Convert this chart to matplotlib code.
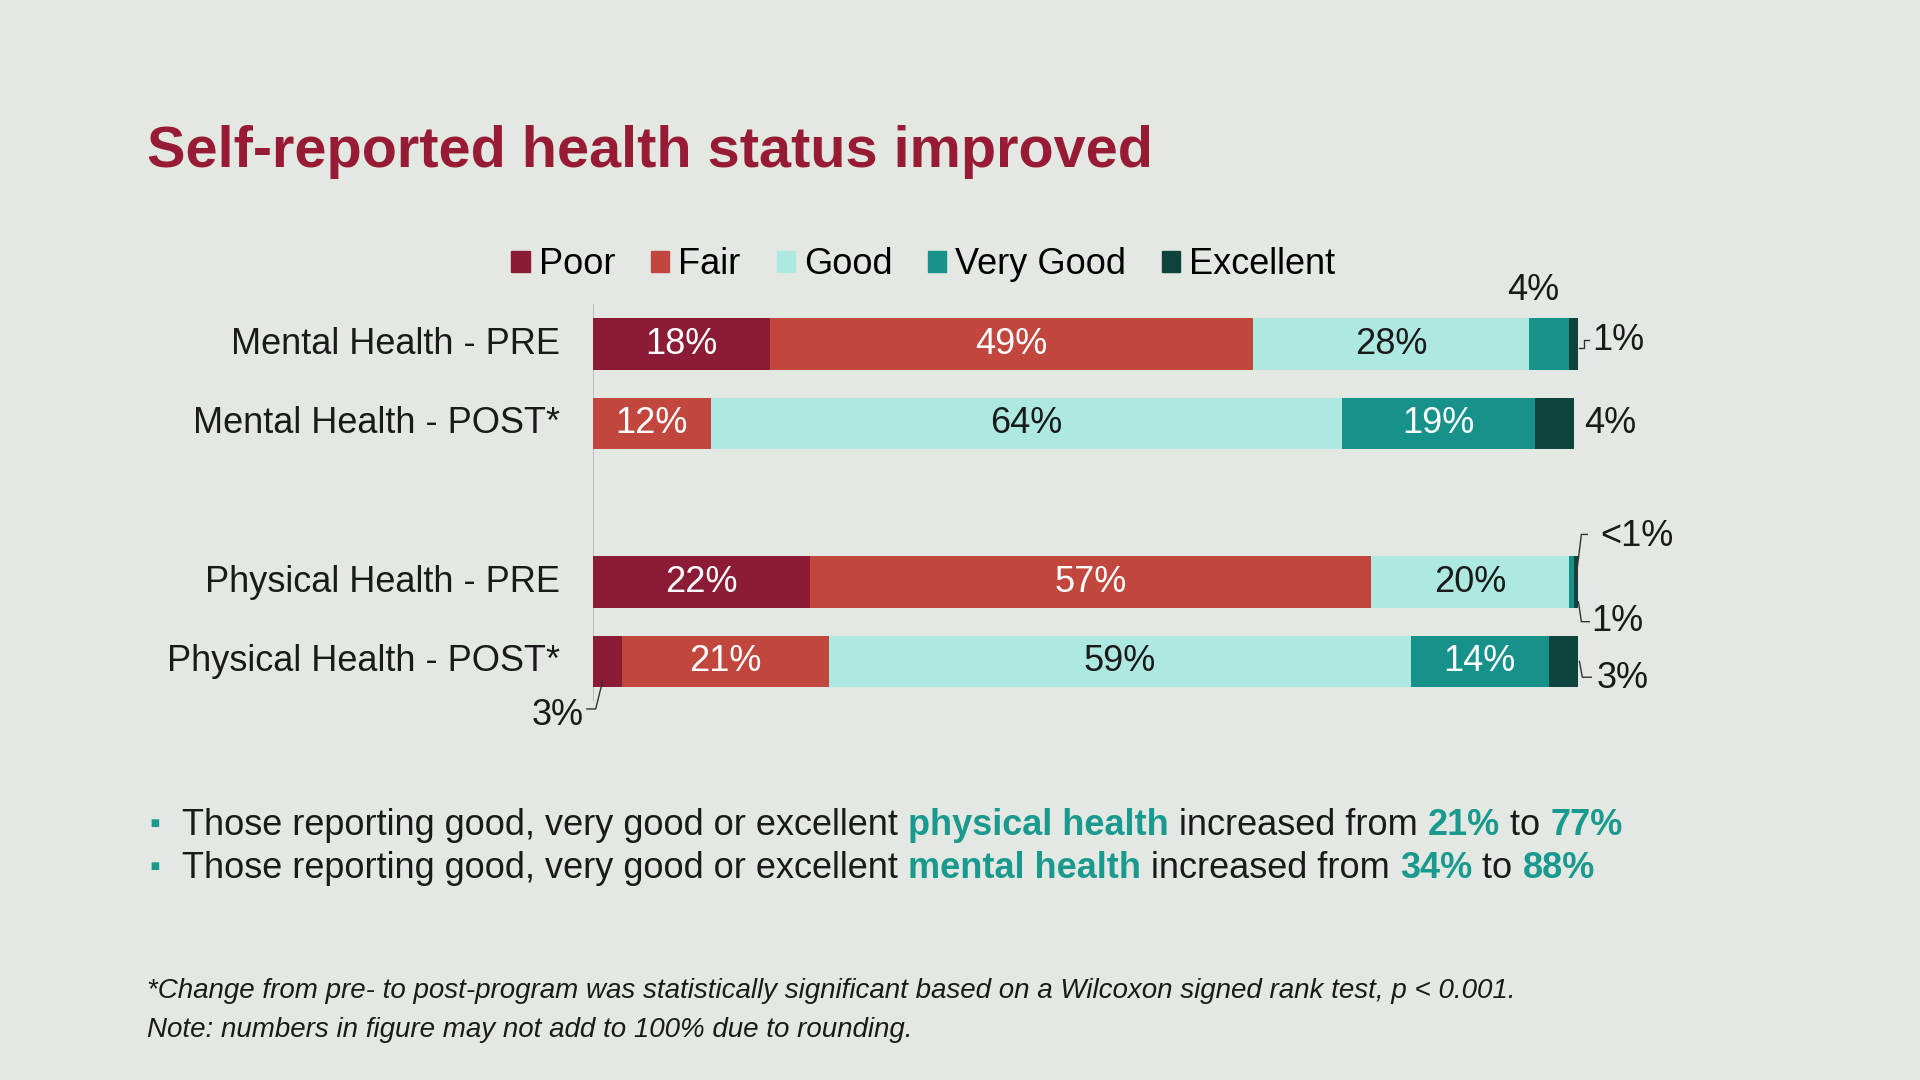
import matplotlib.pyplot as plt
from matplotlib.patches import Patch

plt.rcParams['font.family'] = ['Liberation Sans', 'DejaVu Sans']

rows = ["Mental Health - PRE", "Mental Health - POST*", "Physical Health - PRE", "Physical Health - POST*"]
row_pos = [0, 1, 3, 4]
categories = ["Poor", "Fair", "Good", "Very Good", "Excellent"]
values = {
    "Poor":      [18, 0, 22, 3],
    "Fair":      [49, 12, 57, 21],
    "Good":      [28, 64, 20, 59],
    "Very Good": [4, 19.6, 0.6, 14],
    "Excellent": [1, 4, 1, 3],
}
colors = ["#8c1b35", "#c1473e", "#ade9e0", "#17928a", "#0f433e"]
text_colors = ["white", "white", "#1a1a1a", "white", "white"]
bg = "#e4e8e2"
teal = "#1a9a8e"
FS = 26

fig = plt.figure(figsize=(19.2, 10.8), dpi=100, facecolor=bg)
ax = fig.add_axes([0.3087, 0.3509, 0.5134, 0.3673])
ax.set_facecolor("none")
ax.set_xlim(0, 100)
ax.set_ylim(4.5, -0.5)
ax.axis("off")
ax.axvline(0, color="#b5b5b5", lw=1.2, zorder=0)

left = [0.0] * len(rows)
for cat, col, tc in zip(categories, colors, text_colors):
    vals = values[cat]
    ax.barh(row_pos, vals, left=left, height=0.65, color=col, zorder=2)
    for y, v, l in zip(row_pos, vals, left):
        if v >= 10:
            ax.text(l + v / 2, y, f"{int(v)}%", ha="center", va="center", color=tc, fontsize=FS)
    left = [a + b for a, b in zip(left, vals)]

for y, r in zip(row_pos, rows):
    ax.text(-3.3, y, r, ha="right", va="center", fontsize=FS, color="#1a1a1a", clip_on=False)

# callouts for the small segments
kw = dict(fontsize=FS, color="#1a1a1a", clip_on=False)
lk = dict(color="#333333", lw=1, clip_on=False)
ax.text(95.4, -0.68, "4%", ha="center", va="center", **kw)
ax.plot([100.1, 100.6, 100.6, 101.1], [0.05, 0.05, -0.05, -0.05], **lk)
ax.text(101.4, -0.04, "1%", ha="left", va="center", **kw)
ax.plot([99.7, 100.3, 100.9], [3.0, 2.4, 2.4], **lk)
ax.text(100.6, 1, "4%", ha="left", va="center", **kw)
ax.text(102.2, 2.42, "<1%", ha="left", va="center", **kw)
ax.plot([100.0, 100.3, 101.1], [3.25, 3.5, 3.5], **lk)
ax.text(101.3, 3.5, "1%", ha="left", va="center", **kw)
ax.plot([1.0, 0.3, -0.6], [4.25, 4.6, 4.6], **lk)
ax.text(-0.9, 4.68, "3%", ha="right", va="center", **kw)
ax.plot([100.1, 100.4, 101.3], [4.0, 4.2, 4.2], **lk)
ax.text(101.8, 4.22, "3%", ha="left", va="center", **kw)

handles = [Patch(color=c, label=n) for c, n in zip(colors, categories)]
fig.legend(handles=handles, loc="center", bbox_to_anchor=(0.481, 0.755), ncol=5, frameon=False,
           fontsize=FS, handlelength=0.5, handleheight=0.5, handletextpad=0.25, columnspacing=1.0)

fig.text(0.0765, 0.859, "Self-reported health status improved", fontsize=41.5, fontweight="bold",
         color="#981b36", va="center")

fig.canvas.draw()
renderer = fig.canvas.get_renderer()


def rich_line(x, y, parts):
    for s, c, w in parts:
        t = fig.text(x, y, s, fontsize=FS, color=c, fontweight=w, va="center")
        bb = t.get_window_extent(renderer)
        x += bb.width / fig.bbox.width


bullets = [
    [("Those reporting good, very good or excellent ", "#1a1a1a", "normal"), ("physical health", teal, "bold"),
     (" increased from ", "#1a1a1a", "normal"), ("21%", teal, "bold"), (" to ", "#1a1a1a", "normal"), ("77%", teal, "bold")],
    [("Those reporting good, very good or excellent ", "#1a1a1a", "normal"), ("mental health", teal, "bold"),
     (" increased from ", "#1a1a1a", "normal"), ("34%", teal, "bold"), (" to ", "#1a1a1a", "normal"), ("88%", teal, "bold")],
]
for yb, parts in zip([0.236, 0.196], bullets):
    fig.text(0.0805, yb, "\u25aa", fontsize=22, color=teal, va="center", ha="center")
    rich_line(0.095, yb, parts)

fig.text(0.0765, 0.082, "*Change from pre- to post-program was statistically significant based on a Wilcoxon signed rank test, p < 0.001.",
         fontsize=20, style="italic", color="#1a1a1a", va="center")
fig.text(0.0765, 0.046, "Note: numbers in figure may not add to 100% due to rounding.",
         fontsize=20, style="italic", color="#1a1a1a", va="center")

fig.savefig("out.png", dpi=100, facecolor=bg)
